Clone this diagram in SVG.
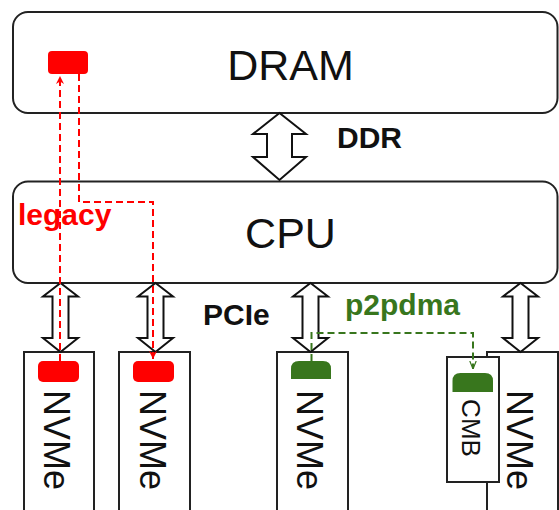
<svg xmlns="http://www.w3.org/2000/svg" width="559" height="510" viewBox="0 0 559 510">
<style>
.box{fill:#fff;stroke:#222;stroke-width:2}
.arr{fill:#fff;stroke:#111;stroke-width:2;stroke-linejoin:miter}
.big{font-family:"Liberation Sans",Arial,sans-serif;font-size:43px;fill:#111}
.lbl{font-family:"Liberation Sans",Arial,sans-serif;font-size:30px;font-weight:bold;fill:#111}
.nv{font-family:"Liberation Sans",Arial,sans-serif;font-size:36px;fill:#111}
.red{fill:#ff0000}
.grn{fill:#38761d}
.rdash{fill:none;stroke:#ff0000;stroke-width:2;stroke-dasharray:7,4}
.gdash{fill:none;stroke:#38761d;stroke-width:2;stroke-dasharray:7,4}
</style>
<defs>
<marker id="ra" viewBox="0 0 10 10" refX="10" refY="5" markerWidth="8" markerHeight="8" orient="auto" markerUnits="userSpaceOnUse">
<path d="M0,0 L10,5 L0,10 L3,5 Z" fill="#ff0000"/>
</marker>
<marker id="ga" viewBox="0 0 10 10" refX="10" refY="5" markerWidth="8" markerHeight="8" orient="auto" markerUnits="userSpaceOnUse">
<path d="M0,1 L10,5 L0,9" fill="none" stroke="#38761d" stroke-width="1.5"/>
</marker>
</defs>

<g id="dram">
<rect class="box" x="13" y="12" width="544.5" height="101" rx="15"/>
<text class="big" x="290.5" y="80" text-anchor="middle">DRAM</text>
<rect class="red" x="48" y="51" width="40" height="23" rx="4"/>
</g>

<g id="cpu">
<rect class="box" x="13" y="181.5" width="544.5" height="101.5" rx="15"/>
<text class="big" x="290.5" y="248" text-anchor="middle">CPU</text>
</g>

<g id="nvme1">
<rect class="box" x="24" y="352" width="70" height="170"/>
<rect class="red" x="38" y="361" width="41" height="21" rx="5"/>
<text class="nv" x="44" y="440" text-anchor="middle" transform="rotate(90 44 440)">NVMe</text>
</g>

<g id="nvme2">
<rect class="box" x="119" y="352" width="71" height="170"/>
<rect class="red" x="133" y="361" width="41" height="21" rx="5"/>
<text class="nv" x="140" y="440" text-anchor="middle" transform="rotate(90 140 440)">NVMe</text>
</g>

<g id="nvme3">
<rect class="box" x="277" y="352" width="71" height="170"/>
<path class="grn" d="M291,379 V369 Q291,361 299,361 H323 Q331,361 331,369 V379 Z"/>
<text class="nv" x="297" y="440" text-anchor="middle" transform="rotate(90 297 440)">NVMe</text>
</g>

<g id="nvme4">
<rect class="box" x="487" y="352" width="71" height="170"/>
<text class="nv" x="507" y="440" text-anchor="middle" transform="rotate(90 507 440)">NVMe</text>
</g>

<g id="cmb">
<rect class="box" x="447" y="357" width="52" height="125"/>
<path class="grn" d="M452.5,392 V381 Q452.5,373 460.5,373 H485 Q493,373 493,381 V392 Z"/>
<text class="nv" style="font-size:26px" x="462" y="428" text-anchor="middle" transform="rotate(90 462 428)">CMB</text>
</g>

<g id="connectors">
<polygon class="arr" points="279.5,113 306,134 292,134 292,157 306,157 279.5,180 253,157 267,157 267,134 253,134"/>
<polygon class="arr" points="60.5,283 78,296.5 68.5,296.5 68.5,338 78,338 60.5,352 43,338 52.5,338 52.5,296.5 43,296.5"/>
<polygon class="arr" points="155.5,283 173,296.5 163.5,296.5 163.5,338 173,338 155.5,352 138,338 147.5,338 147.5,296.5 138,296.5"/>
<polygon class="arr" points="310.5,283 328,296.5 318.5,296.5 318.5,338 328,338 310.5,352 293,338 302.5,338 302.5,296.5 293,296.5"/>
<polygon class="arr" points="520.5,283 538,296.5 528.5,296.5 528.5,338 538,338 520.5,352 503,338 512.5,338 512.5,296.5 503,296.5"/>
<path class="rdash" d="M60,361 V76" marker-end="url(#ra)"/>
<path class="rdash" d="M79,74 V202 H153 V359" marker-end="url(#ra)"/>
<path class="gdash" d="M311.5,361 V333 H473 V369" marker-end="url(#ga)"/>
</g>

<g id="labels">
<text class="lbl" x="337" y="148">DDR</text>
<text class="lbl" x="203" y="325">PCIe</text>
<text class="lbl red" x="18" y="225">legacy</text>
<text class="lbl grn" x="345" y="315">p2pdma</text>
</g>
</svg>
